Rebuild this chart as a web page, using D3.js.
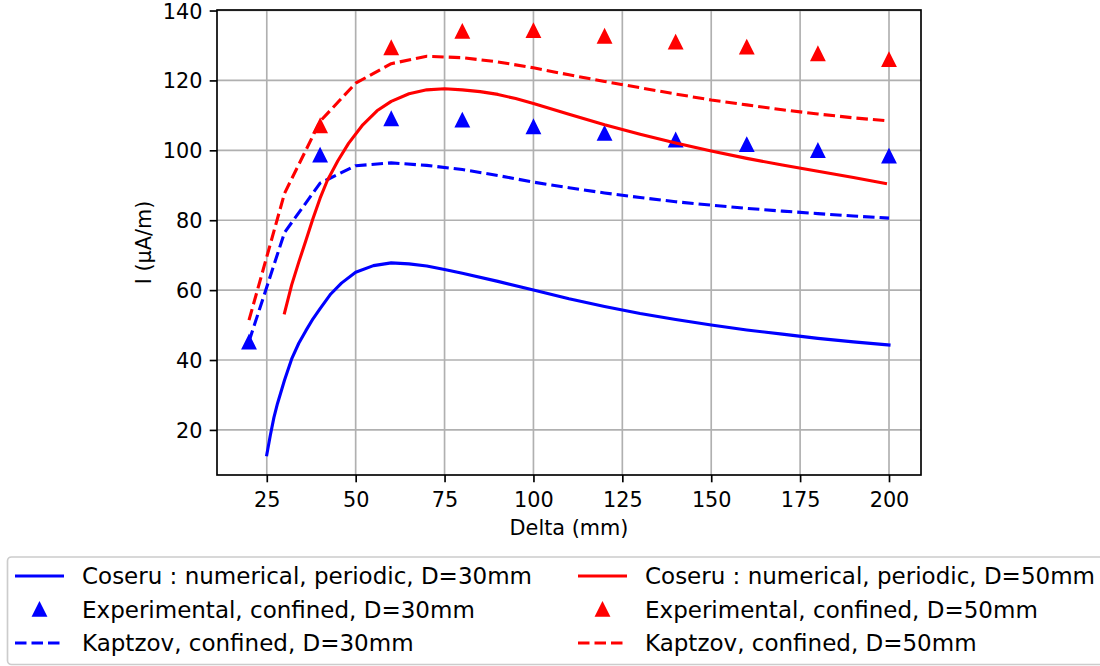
<!DOCTYPE html>
<html>
<head>
<meta charset="utf-8">
<script src="https://cdn.jsdelivr.net/npm/d3@7"></script>
<style>
  html, body { margin: 0; padding: 0; background: #fff; }
  svg { display: block; font-family: "DejaVu Sans", sans-serif; }
</style>
</head>
<body>
<svg id="chart" width="1100" height="666"></svg>
<script>
// ---------------- data ----------------
const xTicks = [25, 50, 75, 100, 125, 150, 175, 200];
const yTicks = [20, 40, 60, 80, 100, 120, 140];

const coseru30X = [25, 26, 27, 28, 30, 32, 34, 36, 38, 40, 43, 46, 50, 55, 60, 65, 70, 75, 80, 90, 100, 110, 120, 130, 140, 150, 160, 170, 180, 190, 200];
const coseru30Y = [12.9, 18.5, 23.5, 27.5, 34.3, 40.3, 44.8, 48.4, 51.8, 54.7, 58.9, 62.0, 65.1, 67.0, 67.8, 67.5, 66.9, 65.9, 64.8, 62.5, 60.0, 57.5, 55.3, 53.3, 51.6, 50.0, 48.6, 47.4, 46.2, 45.2, 44.3];

const coseru50X = [30, 32, 34, 36, 38, 40, 42, 45, 48, 52, 56, 60, 65, 70, 75, 80, 85, 90, 95, 100, 110, 120, 130, 140, 150, 160, 170, 180, 190, 199];
const coseru50Y = [53.5, 61.5, 68.0, 74.2, 80.5, 86.3, 91.3, 97.0, 102.0, 107.3, 111.3, 114.0, 116.2, 117.3, 117.6, 117.3, 116.8, 116.0, 114.8, 113.4, 110.3, 107.3, 104.6, 102.1, 99.8, 97.7, 95.8, 94.0, 92.2, 90.5];

const exp30X = [20, 40, 60, 80, 100, 120, 140, 160, 180, 200];
const exp30Y = [45.1, 98.6, 109.0, 108.6, 106.7, 104.8, 102.9, 101.6, 99.9, 98.3];

const exp50X = [40, 60, 80, 100, 120, 140, 160, 180, 200];
const exp50Y = [107.0, 129.3, 134.0, 134.2, 132.6, 130.9, 129.5, 127.6, 125.9];

const kaptzovX = [20, 30, 40, 50, 60, 70, 80, 90, 100, 110, 120, 130, 140, 150, 160, 170, 180, 190, 200];
const kaptzov30Y = [45.3, 76.5, 90.6, 95.6, 96.4, 95.7, 94.5, 92.8, 90.9, 89.3, 87.8, 86.5, 85.3, 84.3, 83.4, 82.6, 81.9, 81.2, 80.6];
const kaptzov50Y = [51.4, 87.7, 108.3, 119.2, 124.8, 126.9, 126.5, 125.3, 123.6, 121.6, 119.7, 117.9, 116.1, 114.4, 113.0, 111.6, 110.4, 109.3, 108.4];

const legendLabels = [
  "Coseru : numerical, periodic, D=30mm",
  "Experimental, confined, D=30mm",
  "Kaptzov, confined, D=30mm",
  "Coseru : numerical, periodic, D=50mm",
  "Experimental, confined, D=50mm",
  "Kaptzov, confined, D=50mm"
];

// ---------------- layout ----------------
const svg = d3.select("#chart");
const L = 217, R = 921, T = 10, B = 475;
const x = d3.scaleLinear().domain([11, 209]).range([L, R]);
const y = d3.scaleLinear().domain([7.1, 140.15]).range([B, T]);

const BLUE = "#0000ff", RED = "#ff0000";
const LW = 3.1;
const DASH = "11.5,5";
const tickFont = 20.8;

svg.append("defs").append("clipPath").attr("id", "clip")
  .append("rect").attr("x", L).attr("y", T).attr("width", R - L).attr("height", B - T);

// grid
const grid = svg.append("g");
grid.selectAll("line.gx").data(xTicks).join("line")
  .attr("x1", d => x(d)).attr("x2", d => x(d)).attr("y1", T).attr("y2", B)
  .attr("stroke", "#b0b0b0").attr("stroke-width", 1.67);
grid.selectAll("line.gy").data(yTicks).join("line")
  .attr("y1", d => y(d)).attr("y2", d => y(d)).attr("x1", L).attr("x2", R)
  .attr("stroke", "#b0b0b0").attr("stroke-width", 1.67);

// series
const plot = svg.append("g").attr("clip-path", "url(#clip)");
const line = d3.line().x(d => x(d[0])).y(d => y(d[1]));
const zip = (a, b) => a.map((v, i) => [v, b[i]]);

function drawLine(xs, ys, color, dashed) {
  plot.append("path").datum(zip(xs, ys))
    .attr("d", line).attr("fill", "none").attr("stroke", color)
    .attr("stroke-width", LW).attr("stroke-linejoin", "round").attr("stroke-linecap", dashed ? "butt" : "square")
    .attr("stroke-dasharray", dashed ? DASH : null);
}
const tri = s => `M0,${-s}L${-s},${s}L${s},${s}Z`;
function drawTri(xs, ys, color) {
  plot.append("g").selectAll("path").data(zip(xs, ys)).join("path")
    .attr("transform", d => `translate(${x(d[0])},${y(d[1])})`)
    .attr("d", tri(6.25)).attr("fill", color).attr("stroke", color).attr("stroke-width", 2.08)
    .attr("stroke-linejoin", "miter");
}

drawLine(coseru30X, coseru30Y, BLUE, false);
drawTri(exp30X, exp30Y, BLUE);
drawLine(kaptzovX, kaptzov30Y, BLUE, true);
drawLine(coseru50X, coseru50Y, RED, false);
drawTri(exp50X, exp50Y, RED);
drawLine(kaptzovX, kaptzov50Y, RED, true);

// axes
const xAxis = svg.append("g").attr("transform", `translate(0,${B})`)
  .call(d3.axisBottom(x).tickValues(xTicks).tickSize(7.3).tickPadding(7.3).tickFormat(d3.format("d")));
const yAxis = svg.append("g").attr("transform", `translate(${L},0)`)
  .call(d3.axisLeft(y).tickValues(yTicks).tickSize(7.3).tickPadding(7.3).tickFormat(d3.format("d")));
[xAxis, yAxis].forEach(g => {
  g.select(".domain").remove();
  g.selectAll(".tick line").attr("stroke", "#000").attr("stroke-width", 1.67);
  g.selectAll(".tick text").attr("font-size", tickFont).attr("fill", "#000")
    .attr("font-family", "DejaVu Sans");
});
xAxis.selectAll(".tick text").attr("dy", null).attr("y", 31.5);
yAxis.selectAll(".tick text").attr("dy", "0.36em");

// frame
svg.append("rect").attr("x", L).attr("y", T).attr("width", R - L).attr("height", B - T)
  .attr("fill", "none").attr("stroke", "#000").attr("stroke-width", 1.67);

// axis labels
svg.append("text").attr("x", (L + R) / 2).attr("y", 535).attr("text-anchor", "middle")
  .attr("font-size", tickFont).text("Delta (mm)");
svg.append("text").attr("transform", `translate(150.5,${(T + B) / 2}) rotate(-90)`)
  .attr("text-anchor", "middle").attr("font-size", tickFont).text("I (μA/m)");

// legend
const leg = svg.append("g");
leg.append("rect").attr("x", 7.5).attr("y", 557).attr("width", 1110).attr("height", 107.5)
  .attr("rx", 4).attr("fill", "#fff").attr("fill-opacity", 0.8)
  .attr("stroke", "#cccccc").attr("stroke-width", 1.67);
const rows = [576, 609.5, 643];
const cols = [15, 578];
const legColors = [BLUE, BLUE, BLUE, RED, RED, RED];
const legKinds = ["solid", "tri", "dash", "solid", "tri", "dash"];
legendLabels.forEach((lab, i) => {
  const cx = cols[Math.floor(i / 3)], cy = rows[i % 3];
  const kind = legKinds[i], col = legColors[i];
  if (kind === "tri") {
    leg.append("path").attr("transform", `translate(${cx + 24.5},${cy})`)
      .attr("d", tri(6.25)).attr("fill", col).attr("stroke", col).attr("stroke-width", 2.08);
  } else {
    leg.append("line").attr("x1", cx).attr("x2", cx + 49).attr("y1", cy).attr("y2", cy)
      .attr("stroke", col).attr("stroke-width", LW)
      .attr("stroke-dasharray", kind === "dash" ? DASH : null);
  }
  leg.append("text").attr("x", cx + 67).attr("y", cy).attr("dy", "0.36em")
    .attr("font-size", 23).attr("fill", "#000").text(lab);
});
</script>
</body>
</html>
